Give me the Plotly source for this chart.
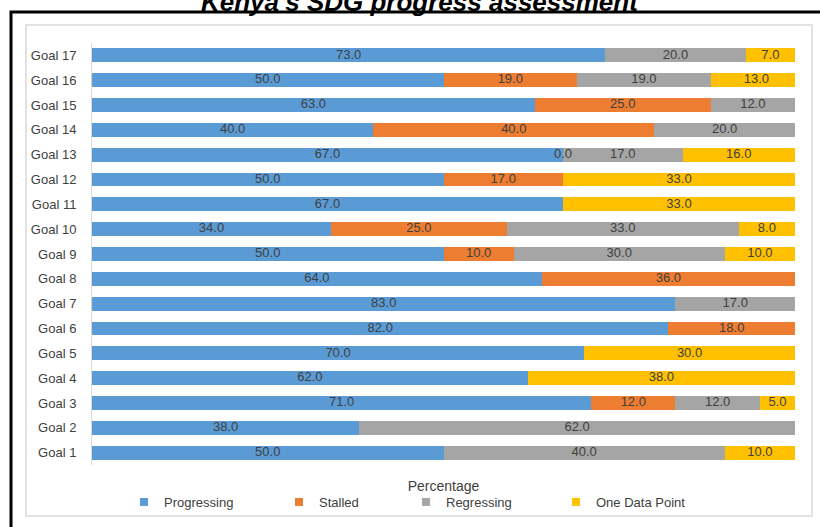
import plotly.graph_objects as go

goals = [f"Goal {i}" for i in range(1, 18)]

# values from Goal 1 ... Goal 17 (None = no segment)
progressing = [50, 38, 71, 62, 70, 82, 83, 64, 50, 34, 67, 50, 67, 40, 63, 50, 73]
stalled     = [None, None, 12, None, None, 18, None, 36, 10, 25, None, 17, 0, 40, 25, 19, None]
regressing  = [40, 62, 12, None, None, None, 17, None, 30, 33, None, None, 17, 20, 12, 19, 20]
one_point   = [10, None, 5, 38, 30, None, None, None, 10, 8, 33, 33, 16, None, None, 13, 7]

series_names = ["Progressing", "Stalled", "Regressing", "One Data Point"]
series_vals = [progressing, stalled, regressing, one_point]
colors = ["#5B9BD5", "#ED7D31", "#A5A5A5", "#FFC000"]
legend_widths = [110, 82, 105, 100]

FONT = "Liberation Sans, Arial, sans-serif"
TXT = "#404040"

fig = go.Figure()

# stacked bars
for name, vals, col in zip(series_names, series_vals, colors):
    fig.add_trace(go.Bar(
        y=goals, x=vals, orientation="h", name=name,
        marker=dict(color=col, line=dict(width=0)),
        showlegend=False, hoverinfo="x+y+name",
    ))

# data labels at segment centres
base = [0.0] * len(goals)
for name, vals in zip(series_names, series_vals):
    xs, ys, ts = [], [], []
    for i, v in enumerate(vals):
        if v is None:
            continue
        xs.append(base[i] + v / 2.0)
        ys.append(goals[i])
        ts.append(f"{v:.1f}")
        base[i] += v
    fig.add_trace(go.Scatter(
        x=xs, y=ys, text=ts, mode="text",
        textfont=dict(family=FONT, size=13, color=TXT),
        showlegend=False, hoverinfo="skip", cliponaxis=False,
    ))

# legend entries (small square markers)
for name, col, lw in zip(series_names, colors, legend_widths):
    fig.add_trace(go.Scatter(
        x=[None], y=[None], mode="markers", name=name,
        marker=dict(symbol="square", size=8, color=col),
        legendwidth=lw, showlegend=True,
    ))

W, H = 820, 527
L, R, T, B = 92, 25, 43, 62
pw, ph = W - L - R, H - T - B

def px_x(p):
    return (p - L) / pw

def px_y(p):
    return (H - B - p) / ph

fig.update_layout(
    width=W, height=H,
    margin=dict(l=L, r=R, t=T, b=B, autoexpand=False),
    paper_bgcolor="white", plot_bgcolor="white",
    barmode="stack", bargap=0.44,
    font=dict(family=FONT, size=13, color=TXT),
    xaxis=dict(range=[0, 100], showticklabels=False, showgrid=False,
               zeroline=False, showline=False, ticks="",
               title=dict(text="Percentage", font=dict(size=14, color=TXT), standoff=16)),
    yaxis=dict(range=[-0.5, len(goals) - 0.5], showgrid=False, zeroline=False,
               showline=True, linecolor="#D9D9D9",
               linewidth=1, ticks="", ticklabelstandoff=12,
               tickfont=dict(size=13, color=TXT)),
    legend=dict(orientation="h", x=px_x(124), xanchor="left",
                y=px_y(487), yanchor="top", font=dict(size=13, color=TXT),
                itemwidth=30, traceorder="normal", bgcolor="rgba(0,0,0,0)"),
    showlegend=True,
)

# chart area border and outer frame
fig.add_shape(type="rect", xref="paper", yref="paper",
              x0=px_x(26), x1=px_x(812), y0=px_y(516), y1=px_y(25),
              line=dict(color="#D9D9D9", width=1.5), layer="below")
fig.add_shape(type="rect", xref="paper", yref="paper",
              x0=px_x(11), x1=px_x(840), y0=px_y(560), y1=px_y(12),
              line=dict(color="black", width=3), layer="below")

# partially visible title at the very top
fig.add_annotation(text="<b><i>Kenya's SDG progress assessment</i></b>",
                   xref="paper", yref="paper", x=px_x(420), y=px_y(2),
                   xanchor="center", yanchor="middle", showarrow=False,
                   font=dict(family=FONT, size=26, color="black"))

fig.write_html("out.html",
               config={"displayModeBar": False},
               post_script="document.body.style.margin='0';document.body.style.overflow='hidden';")
